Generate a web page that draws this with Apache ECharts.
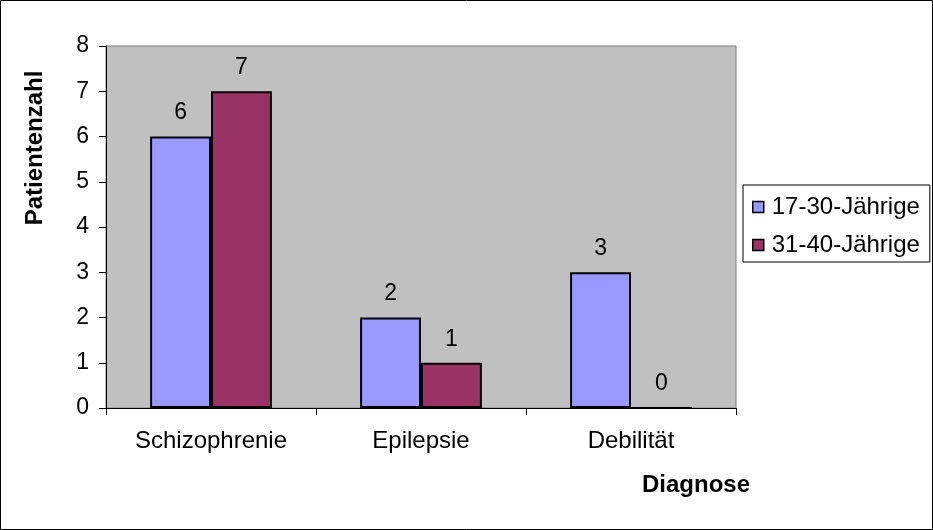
<!DOCTYPE html>
<html>
<head>
<meta charset="utf-8">
<script src="https://cdn.jsdelivr.net/npm/echarts@6/dist/echarts.min.js"></script>
<style>
  html, body { margin: 0; padding: 0; background: #fff; }
  #chart { width: 933px; height: 530px; }
</style>
</head>
<body>
<div id="chart"></div>
<script>
// data
const categories = ['Schizophrenie', 'Epilepsie', 'Debilität'];
const seriesNames = ['17-30-Jährige', '31-40-Jährige'];
const young = [6, 2, 3];
const older = [7, 1, 0];
const yTicks = { min: 0, max: 8, step: 1 };

const font = 'Liberation Sans, Arial, sans-serif';

const chart = echarts.init(document.getElementById('chart'));

function barSeries(name, data, color) {
  return {
    name: name,
    type: 'bar',
    data: data,
    barGap: '0%',
    barCategoryGap: '42%',
    itemStyle: { color: color, borderColor: '#000', borderWidth: 2 },
    label: {
      show: true,
      position: 'top',
      distance: 12,
      color: '#000',
      fontFamily: font,
      fontSize: 23
    }
  };
}

chart.setOption({
  animation: false,
  backgroundColor: '#fff',
  textStyle: { fontFamily: font },
  grid: {
    left: 106, right: 197, top: 46, bottom: 122,
    show: true,
    backgroundColor: '#C0C0C0',
    borderColor: '#808080',
    borderWidth: 1
  },
  legend: {
    orient: 'vertical',
    left: 743,
    top: 185,
    padding: [10, 10, 5, 9],
    itemGap: 14,
    itemWidth: 11,
    itemHeight: 11,
    icon: 'rect',
    borderColor: '#000',
    borderWidth: 1,
    backgroundColor: '#fff',
    itemStyle: { borderWidth: 1.5 },
    textStyle: { color: '#000', fontSize: 24, fontFamily: font, padding: [0, 0, 0, 3] },
    data: seriesNames
  },
  xAxis: {
    type: 'category',
    data: categories,
    axisLine: { lineStyle: { color: '#000', width: 1 } },
    axisTick: { show: true, length: 7, lineStyle: { color: '#000' } },
    axisLabel: { color: '#000', fontSize: 24, fontFamily: font, margin: 21 },
    splitLine: { show: false }
  },
  yAxis: {
    type: 'value',
    min: yTicks.min,
    max: yTicks.max,
    interval: yTicks.step,
    axisLine: { show: true, lineStyle: { color: '#000', width: 1 } },
    axisTick: { show: true, length: 7, lineStyle: { color: '#000' } },
    axisLabel: { color: '#000', fontSize: 23, fontFamily: font, margin: 17 },
    splitLine: { show: false }
  },
  graphic: [
    {
      type: 'rect',
      shape: { x: 0.5, y: 0.5, width: 932, height: 529 },
      style: { fill: 'none', stroke: '#000', lineWidth: 1 },
      silent: true
    },
    {
      type: 'text',
      x: 35, y: 148,
      rotation: Math.PI / 2,
      style: {
        text: 'Patientenzahl',
        fill: '#000',
        font: 'bold 24px ' + font,
        align: 'center',
        verticalAlign: 'middle'
      }
    },
    {
      type: 'text',
      x: 696, y: 485,
      style: {
        text: 'Diagnose',
        fill: '#000',
        font: 'bold 24px ' + font,
        align: 'center',
        verticalAlign: 'middle'
      }
    }
  ],
  series: [
    barSeries(seriesNames[0], young, '#9999FF'),
    barSeries(seriesNames[1], older, '#993366')
  ]
});
</script>
</body>
</html>
